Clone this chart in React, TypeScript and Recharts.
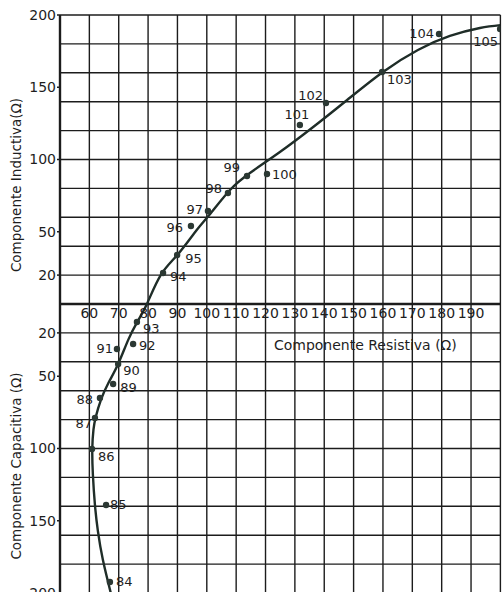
import React from 'react';
import { ComposedChart, Line, Scatter, XAxis, YAxis, ReferenceLine, ReferenceDot } from 'recharts';

// Fitted impedance curve (R = resistive, X = reactive; + inductive, - capacitive)
const curveR = [67.3, 64.6, 62.9, 61.9, 61.2, 61.0, 61.4, 62.2, 64.0, 66.4, 69.8, 73.2, 76.3, 79.6, 84.3, 90.2, 96.5, 101.2, 107.9, 114.7, 124.9, 135.8, 147.8, 160.0, 171.9, 182.8, 193.0, 200.0];
const curveX = [-200, -177, -157, -139, -118, -100, -87, -78, -66, -55, -41.5, -25, -12.5, 0, 20, 34.5, 51, 62.5, 78.9, 90.7, 105.2, 121.8, 141.2, 160.6, 175.8, 185.5, 191, 193];

// Measured points
const pointLabels = ['84', '85', '86', '87', '88', '89', '90', '91', '92', '93', '94', '95', '96', '97', '98', '99', '100', '101', '102', '103', '104', '105'];
const pointR = [67.0, 65.7, 60.9, 61.9, 63.6, 68.1, 69.8, 69.4, 74.9, 76.2, 85.1, 89.9, 94.6, 100.4, 107.2, 113.7, 120.5, 131.7, 140.6, 159.7, 179.1, 199.9];
const pointX = [-192.4, -139.1, -100.3, -78.9, -65, -55.4, -41.5, -31.1, -27.7, -12.5, 21.5, 33.9, 54, 64.4, 76.8, 88.6, 90, 123.9, 139.1, 160.6, 186.9, 190.3];

const xTickValues = [60, 70, 80, 90, 100, 110, 120, 130, 140, 150, 160, 170, 180, 190];
const yTickValues = [200, 150, 100, 50, 20, -20, -50, -100, -150, -200];
const gridR = [50, 60, 70, 80, 90, 100, 110, 120, 130, 140, 150, 160, 170, 180, 190, 200];
const gridX = [-200, -180, -160, -140, -120, -100, -80, -60, -40, -20, 0, 20, 40, 60, 80, 100, 120, 140, 160, 180, 200];

const xTitle = 'Componente Resistiva (Ω)';
const yTitleTop = 'Componente Inductiva(Ω)';
const yTitleBottom = 'Componente Capacitiva (Ω)';

const curveData = curveR.map((r, i) => ({ r, x: curveX[i] }));
const pointData = pointR.map((r, i) => ({ r, x: pointX[i], label: pointLabels[i] }));

// label placement relative to marker (style config)
const LABEL_PLACE: Record<string, { dx: number; dy: number; a: 'start' | 'end' | 'middle' }> = {
  '84': { dx: 6, dy: -1, a: 'start' },
  '85': { dx: 4, dy: 0, a: 'start' },
  '86': { dx: 6, dy: 8, a: 'start' },
  '87': { dx: -3, dy: 5, a: 'end' },
  '88': { dx: -7, dy: 2, a: 'end' },
  '89': { dx: 7, dy: 3, a: 'start' },
  '90': { dx: 5, dy: 7, a: 'start' },
  '91': { dx: -4, dy: 0, a: 'end' },
  '92': { dx: 6, dy: 1, a: 'start' },
  '93': { dx: 6, dy: 6, a: 'start' },
  '94': { dx: 7, dy: 4, a: 'start' },
  '95': { dx: 8, dy: 3, a: 'start' },
  '96': { dx: -8, dy: 2, a: 'end' },
  '97': { dx: -5, dy: -1, a: 'end' },
  '98': { dx: -6, dy: -5, a: 'end' },
  '99': { dx: -7, dy: -8, a: 'end' },
  '100': { dx: 5, dy: 1, a: 'start' },
  '101': { dx: -3, dy: -10, a: 'middle' },
  '102': { dx: -3, dy: -8, a: 'end' },
  '103': { dx: 5, dy: 8, a: 'start' },
  '104': { dx: -5, dy: 0, a: 'end' },
  '105': { dx: -2, dy: 12, a: 'end' },
};

const FONT = 'DejaVu Sans';
const INK = '#1e1e1e';
const GRID = '#1c1c1c';
const CURVE = '#1f2d28';

const PointShape = (props: any) => {
  const { cx, cy, payload } = props;
  if (cx == null || cy == null) return null;
  const p = LABEL_PLACE[payload.label] || { dx: 5, dy: 0, a: 'start' };
  return (
    <g>
      <circle cx={cx} cy={cy} r={3.2} fill="#2b3833" />
      <text
        x={cx + p.dx}
        y={cy + p.dy}
        textAnchor={p.a}
        dominantBaseline="central"
        fontFamily={FONT}
        fontSize={13}
        fill={INK}
      >
        {payload.label}
      </text>
    </g>
  );
};

export default function App() {
  return (
    <div style={{ position: 'absolute', left: 0, top: 0, width: 502, height: 592, overflow: 'hidden', background: '#fff' }}>
      <ComposedChart width={502} height={600} margin={{ top: 15, right: 1.6, bottom: 7, left: 0 }}>
        <XAxis type="number" dataKey="r" domain={[50, 200]} hide allowDataOverflow />
        <YAxis
          type="number"
          dataKey="x"
          domain={[-200, 200]}
          ticks={yTickValues}
          interval={0}
          width={60}
          tickSize={3}
          tickMargin={1}
          tickFormatter={(v: number) => String(Math.abs(v))}
          tick={{ fontSize: 14, fill: INK, fontFamily: FONT }}
          axisLine={{ stroke: GRID, strokeWidth: 2.2 }}
          tickLine={{ stroke: GRID, strokeWidth: 1.5 }}
          allowDataOverflow
        />
        {gridX.map((v) => (
          <ReferenceLine key={'gy' + v} y={v} stroke={GRID} strokeWidth={v === 0 ? 2.3 : 1.4} />
        ))}
        {gridR.map((v) => (
          <ReferenceLine key={'gx' + v} x={v} stroke={GRID} strokeWidth={v === 50 ? 2.2 : 1.4} />
        ))}
        {xTickValues.map((v) => (
          <ReferenceDot
            key={'xt' + v}
            x={v}
            y={0}
            r={0}
            fill="none"
            stroke="none"
            label={{ value: String(v), position: 'bottom', offset: 4, fontSize: 14, fill: INK, fontFamily: FONT }}
          />
        ))}
        <ReferenceDot
          x={154}
          y={-28.5}
          r={0}
          fill="none"
          stroke="none"
          label={{ value: xTitle, position: 'center', fontSize: 14, fill: INK, fontFamily: FONT }}
        />
        <Line
          data={curveData}
          dataKey="x"
          type="natural"
          stroke={CURVE}
          strokeWidth={2.4}
          dot={false}
          activeDot={false}
          isAnimationActive={false}
        />
        <Scatter data={pointData} dataKey="x" shape={PointShape} isAnimationActive={false} />
      </ComposedChart>
      <svg width={30} height={592} style={{ position: 'absolute', left: 0, top: 0 }}>
        <text
          transform="translate(16,185) rotate(-90)"
          textAnchor="middle"
          dominantBaseline="central"
          fontFamily={FONT}
          fontSize={13.5}
          fill={INK}
        >
          {yTitleTop}
        </text>
        <text
          transform="translate(16,466) rotate(-90)"
          textAnchor="middle"
          dominantBaseline="central"
          fontFamily={FONT}
          fontSize={13.5}
          fill={INK}
        >
          {yTitleBottom}
        </text>
      </svg>
    </div>
  );
}
